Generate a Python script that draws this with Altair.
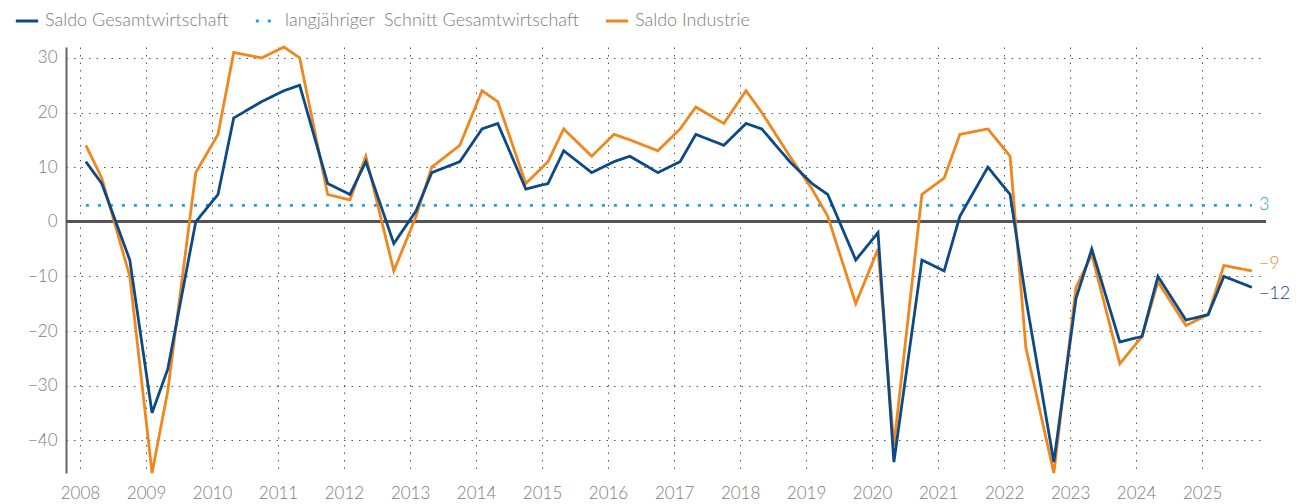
import altair as alt
import pandas as pd

# survey waves per year (early year, early summer, autumn)
years = list(range(2008, 2026))
waves = ["02-03", "05-01", "10-03"]

gesamt = [11, 7, -7,   -35, -27, 0,   5, 19, 22,   24, 25, 7,   5, 11, -4,
          2, 9, 11,    17, 18, 6,     7, 13, 9,    11, 12, 9,   11, 16, 14,
          18, 17, 11,  7, 5, -7,      -2, -44, -7, -9, 1, 10,   5, -14, -44,
          -14, -5, -22, -21, -10, -18, -17, -10, -12]
industrie = [14, 8, -10,  -46, -31, 9,  16, 31, 30,  32, 30, 5,   4, 12, -9,
             1, 10, 14,   24, 22, 7,    11, 17, 12,  16, 15, 13,  17, 21, 18,
             24, 20, 12,  6, 1, -15,    -5, -41, 5,  8, 16, 17,   12, -23, -46,
             -12, -6, -26, -21, -11, -19, -17, -8, -9]
schnitt = 3

series_names = ["Saldo Gesamtwirtschaft", "langjähriger\u00a0 Schnitt Gesamtwirtschaft", "Saldo Industrie"]
series_colors = ["#0b4a87", "#1aa3dd", "#f0861c"]

dates = [f"{y}-{w}T00:00" for y in years for w in waves]

df_g = pd.DataFrame({"date": dates, "value": gesamt, "series": series_names[0]})
df_i = pd.DataFrame({"date": dates, "value": industrie, "series": series_names[2]})
df_s = pd.DataFrame({"date": dates, "value": [schnitt] * len(dates), "series": series_names[1]})

FONT = "Lato"
GREY = "#7b7b7b"

color_scale = alt.Scale(domain=series_names, range=series_colors)
dash_scale = alt.Scale(domain=series_names, range=[[1, 0], [3, 9], [1, 0]])

x_enc = alt.X(
    "date:T",
    scale=alt.Scale(domain=["2007-10-16T00:00", "2025-12-20T00:00"]),
    axis=alt.Axis(
        values=[f"{y}-01-01T00:00" for y in years],
        format="%Y",
        title=None,
        grid=True,
        ticks=False,
        domain=False,
        labelPadding=12,
    ),
)
y_enc = alt.Y(
    "value:Q",
    scale=alt.Scale(domain=[-46, 32], nice=False, zero=False),
    axis=alt.Axis(
        values=[-40, -30, -20, -10, 0, 10, 20, 30],
        title=None,
        grid=True,
        ticks=False,
        domain=True,
        labelPadding=9,
    ),
)

def line_layer(d):
    return alt.Chart(d).mark_line(strokeWidth=2.8, strokeJoin="miter").encode(
        x=x_enc,
        y=y_enc,
        color=alt.Color("series:N", scale=color_scale,
                        legend=alt.Legend(title=None, orient="none", direction="horizontal",
                                          legendX=-52, legendY=-39, columns=3,
                                          symbolType="stroke", symbolSize=500,
                                          symbolStrokeWidth=3, labelFontSize=18,
                                          labelOffset=5, columnPadding=20,
                                          labelLimit=0,
                                          labelColor=GREY, labelFont=FONT,
                                          labelFontWeight=300)),
        strokeDash=alt.StrokeDash("series:N", scale=dash_scale, legend=None),
    )

zero = alt.Chart(df_g).mark_rule(color="#555555", strokeWidth=2).encode(y=alt.datum(0))

last_i = df_i.tail(1)
last_g = df_g.tail(1)
last_s = df_s.tail(1)

def end_label(d, color, dy):
    return alt.Chart(d).mark_text(align="left", baseline="middle", dx=7, dy=dy,
                                  fontSize=18, font=FONT, fontWeight=300, color=color).encode(
        x="date:T", y="value:Q", text=alt.Text("value:Q", format="d"))

chart = alt.layer(
    zero,
    line_layer(df_s),
    line_layer(df_i),
    line_layer(df_g),
    end_label(last_s, series_colors[1], 0),
    end_label(last_i, series_colors[2], -7),
    end_label(last_g, series_colors[0], 7),
).properties(
    width=1200, height=426,
    autosize=alt.AutoSizeParams(type="none"),
    padding={"left": 66, "top": 47, "right": 35, "bottom": 31},
).configure_view(stroke=None).configure_axis(
    labelFont=FONT, labelFontSize=17, labelColor=GREY, labelFontWeight=300,
    gridColor="#555555", gridDash=[1.5, 6], gridWidth=1, gridOpacity=1,
    domainColor="#666666", domainWidth=2,
)

chart.save("out.html", embed_options={"renderer": "svg", "actions": False})
